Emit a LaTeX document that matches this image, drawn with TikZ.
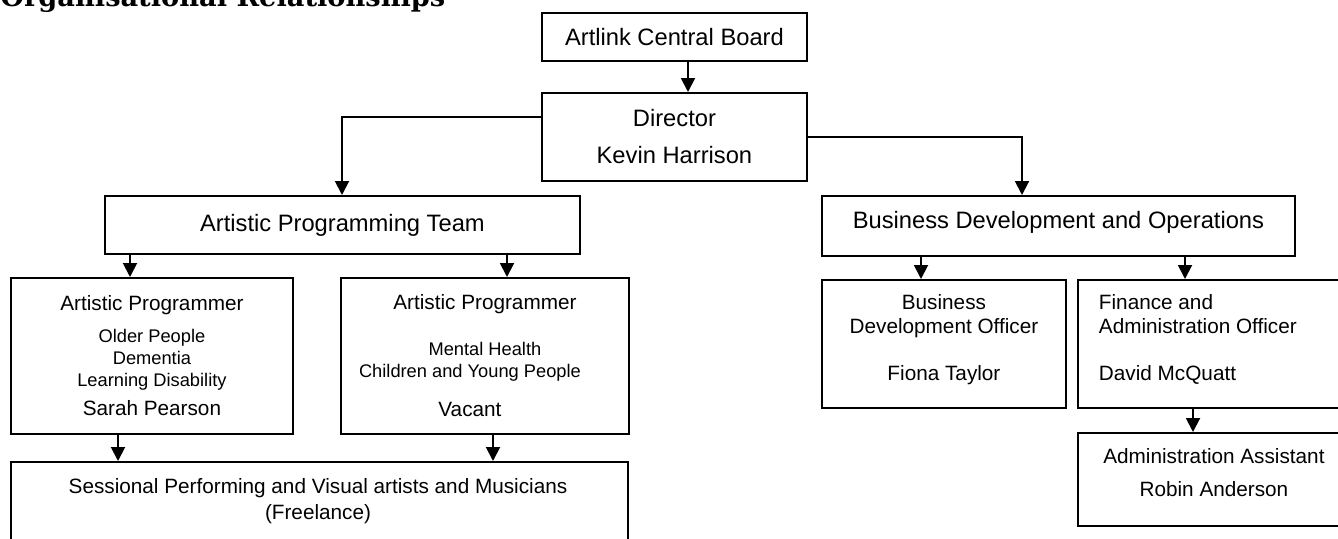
\documentclass[tikz,border=0pt]{standalone}
\usepackage{fontspec}
\setmainfont{Liberation Sans}
\newfontfamily\headfont{DejaVu Serif}
\usepackage{tikz}
\usetikzlibrary{arrows.meta,positioning}
\tikzset{
  box/.style={rectangle, draw=black, line width=1.1pt, inner sep=0pt, align=center, anchor=north west},
  boxbig/.style={box, font=\fontsize{13.5}{16.2}\selectfont},
  boxmid/.style={box, font=\fontsize{11.8}{13.7}\selectfont},
  boxsmall/.style={box, font=\fontsize{10.4}{12.5}\selectfont},
  line/.style={draw, line width=1.1pt, -{Triangle[length=0.28cm,width=0.28cm]}},
}

\begin{document}
\begin{tikzpicture}[x=0.02cm,y=-0.02cm]
  \useasboundingbox (0,0) rectangle (1338,538);

  \node[anchor=base west, inner sep=0pt, font=\headfont\bfseries\fontsize{15.5}{18}\selectfont] (title) at (0,6) {Organisational Relationships};

  \node[boxbig, minimum width=5.3cm, minimum height=0.96cm] (board) at (541,12) {Artlink Central Board};
  \node[boxbig, minimum width=5.3cm, minimum height=1.76cm] (dir) at (541,92) {Director\\[4.8pt]Kevin Harrison};

  \node[boxbig, minimum width=9.5cm, minimum height=1.16cm] (apt) at (104,195) {Artistic Programming Team};
  \node[boxbig, minimum width=9.46cm, minimum height=1.2cm, text depth=7.4pt] (bdops) at (821,195) {Business Development and Operations};

  \node[boxsmall, minimum width=5.64cm, minimum height=3.12cm] (ap1) at (10,277) {{\fontsize{11.8}{12.5}\selectfont Artistic Programmer}\\[5.7pt]Older People\\Dementia\\Learning Disability\\[4pt]{\fontsize{11.8}{12.5}\selectfont Sarah Pearson}};
  \node[boxsmall, minimum width=5.76cm, minimum height=3.12cm] (ap2) at (340,277) {{\fontsize{11.8}{12.5}\selectfont Artistic Programmer}\\[13.7pt]Mental Health\\Children and Young People\hspace*{0.6cm}\null\\[9.7pt]{\fontsize{11.8}{12.5}\selectfont Vacant}\hspace*{0.6cm}\null};

  \node[box, minimum width=12.34cm, minimum height=2.2cm] (sess) at (10,461) {};
  \node[font=\fontsize{11.8}{14.8}\selectfont, align=center] (sesstext) at (318,501) {Sessional Performing and Visual artists and Musicians\\(Freelance)};

  \node[boxmid, minimum width=4.88cm, minimum height=2.56cm, text depth=7pt] (bdo) at (821,279) {Business\\Development Officer\\[13pt]Fiona Taylor};
  \node[boxmid, align=left, minimum width=5.44cm, minimum height=2.56cm, text depth=7pt] (fao) at (1077,279) {Finance and\\\makebox[4.6cm][l]{Administration Officer}\\[13pt]David McQuatt};
  \node[boxmid, minimum width=5.44cm, minimum height=1.86cm, text depth=8pt] (admin) at (1077,432) {Administration Assistant\\[5.1pt]Robin Anderson};

  \begin{scope}[every path/.style=line]
    \path (board.south -| 688,0) -- (dir.north -| 688,0);
    \path (dir.west |- 0,117) -| (apt.north -| 342,0);
    \path (dir.east |- 0,137) -| (bdops.north -| 1022,0);

    \path (apt.south -| 130,0) -- (ap1.north -| 130,0);
    \path (apt.south -| 507,0) -- (ap2.north -| 507,0);
    \path (ap1.south -| 118,0) -- (sess.north -| 118,0);
    \path (ap2.south -| 493,0) -- (sess.north -| 493,0);

    \path (bdops.south -| 921,0) -- (bdo.north -| 921,0);
    \path (bdops.south -| 1185,0) -- (fao.north -| 1185,0);
    \path (fao.south -| 1193,0) -- (admin.north -| 1193,0);
  \end{scope}
\end{tikzpicture}
\end{document}
